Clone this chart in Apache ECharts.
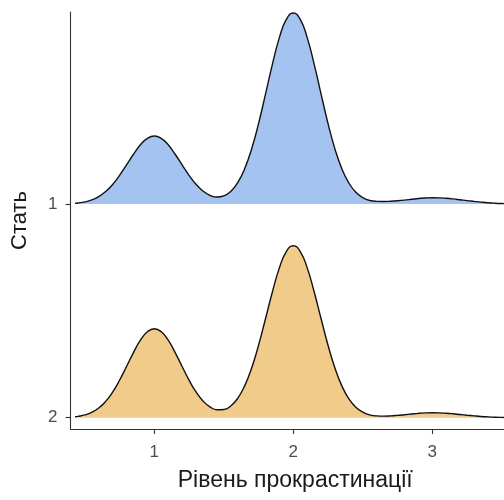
<!DOCTYPE html>
<html>
<head>
<meta charset="utf-8">
<script src="https://cdn.jsdelivr.net/npm/echarts@6/dist/echarts.min.js"></script>
<style>
html,body{margin:0;padding:0;background:#fff;}
#chart{width:504px;height:500px;}
</style>
</head>
<body>
<div id="chart"></div>
<script>
// Groups (ridges) and their baselines on the y axis
const groups = ['1', '2'];
const baselines = [1, 2];
const fillColors = ['#A5C3F1', '#F0CB8A'];
const xTicks = [1, 2, 3];
const yTicks = [1, 2];

// x grid of the density curves (Рівень прокрастинації)
const xs = [0.43, 0.45, 0.50, 0.55, 0.60, 0.65, 0.70, 0.75, 0.80, 0.85, 0.90, 0.95,
  1.00, 1.05, 1.10, 1.15, 1.20, 1.25, 1.30, 1.35, 1.40, 1.45, 1.50, 1.55,
  1.60, 1.65, 1.70, 1.75, 1.80, 1.85, 1.90, 1.95, 2.00, 2.05, 2.10, 2.15,
  2.20, 2.25, 2.30, 2.35, 2.40, 2.45, 2.50, 2.55, 2.60, 2.65, 2.70, 2.75,
  2.80, 2.85, 2.90, 2.95, 3.00, 3.05, 3.10, 3.15, 3.20, 3.25, 3.30, 3.35,
  3.40, 3.45, 3.50, 3.55, 3.60, 3.65];

// ridge heights (in y-axis units) for group "1"
const density1 = [0.0035, 0.0048, 0.0100, 0.0192, 0.0347, 0.0583, 0.0914, 0.1339, 0.1829, 0.2328, 0.2770, 0.3072,
  0.3180, 0.3072, 0.2770, 0.2328, 0.1830, 0.1343, 0.0924, 0.0609, 0.0408, 0.0327, 0.0380, 0.0589,
  0.0996, 0.1648, 0.2574, 0.3764, 0.5141, 0.6544, 0.7787, 0.8636, 0.8940, 0.8636, 0.7787, 0.6544,
  0.5141, 0.3764, 0.2570, 0.1640, 0.0980, 0.0550, 0.0300, 0.0165, 0.0125, 0.0120, 0.0130, 0.0150,
  0.0180, 0.0220, 0.0260, 0.0283, 0.0293, 0.0288, 0.0268, 0.0238, 0.0200, 0.0160, 0.0125, 0.0090,
  0.0060, 0.0038, 0.0023, 0.0013, 0.0007, 0.0004];

// ridge heights (in y-axis units) for group "2"
const density2 = [0.0045, 0.0063, 0.0130, 0.0252, 0.0454, 0.0763, 0.1197, 0.1753, 0.2395, 0.3049, 0.3628, 0.4023,
  0.4165, 0.4023, 0.3628, 0.3049, 0.2396, 0.1756, 0.1206, 0.0786, 0.0509, 0.0374, 0.0382, 0.0550,
  0.0905, 0.1488, 0.2319, 0.3391, 0.4629, 0.5893, 0.7012, 0.7776, 0.8050, 0.7776, 0.7012, 0.5893,
  0.4629, 0.3389, 0.2314, 0.1478, 0.0880, 0.0492, 0.0262, 0.0136, 0.0085, 0.0075, 0.0085, 0.0110,
  0.0142, 0.0175, 0.0205, 0.0225, 0.0234, 0.0228, 0.0210, 0.0183, 0.0150, 0.0117, 0.0087, 0.0060,
  0.0040, 0.0025, 0.0015, 0.0009, 0.0005, 0.0003];

const densities = [density1, density2];
const font = 'Liberation Sans, Arial, sans-serif';

const chart = echarts.init(document.getElementById('chart'), null, {renderer: 'canvas'});

const series = groups.map((g, gi) => ({
  name: g,
  type: 'line',
  symbol: 'none',
  smooth: true,
  clip: true,
  z: 2 + gi,
  lineStyle: {color: '#111', width: 1.4},
  areaStyle: {color: fillColors[gi], opacity: 1, origin: baselines[gi]},
  data: xs.map((x, i) => [x, baselines[gi] - densities[gi][i]])
}));

chart.setOption({
  animation: false,
  backgroundColor: '#fff',
  grid: {left: 70.5, right: 0, top: 12, bottom: 71, containLabel: false, outerBoundsMode: 'none'},
  xAxis: {
    type: 'value',
    min: 0.397,
    max: 3.516,
    name: 'Рівень прокрастинації',
    nameLocation: 'middle',
    nameGap: 40,
    nameTextStyle: {fontFamily: font, fontSize: 23, color: '#1a1a1a', padding: [0, 0, 0, 16]},
    axisLine: {show: true, onZero: false, lineStyle: {color: '#333', width: 1.1}},
    axisTick: {show: true, length: 5, customValues: xTicks, lineStyle: {color: '#333', width: 1.1}},
    axisLabel: {customValues: xTicks, fontFamily: font, fontSize: 17, color: '#4d4d4d', margin: 15,
      formatter: v => String(v)},
    splitLine: {show: false}
  },
  yAxis: {
    type: 'value',
    inverse: true,
    min: 0.1015,
    max: 2.0528,
    name: 'Стать',
    nameLocation: 'middle',
    nameGap: 40,
    nameTextStyle: {fontFamily: font, fontSize: 22, color: '#1a1a1a'},
    axisLine: {show: true, onZero: false, lineStyle: {color: '#333', width: 1.1}},
    axisTick: {show: true, length: 5, customValues: yTicks, lineStyle: {color: '#333', width: 1.1}},
    axisLabel: {customValues: yTicks, fontFamily: font, fontSize: 17, color: '#4d4d4d', margin: 13,
      formatter: v => String(v)},
    splitLine: {show: false}
  },
  series: series
});
</script>
</body>
</html>
